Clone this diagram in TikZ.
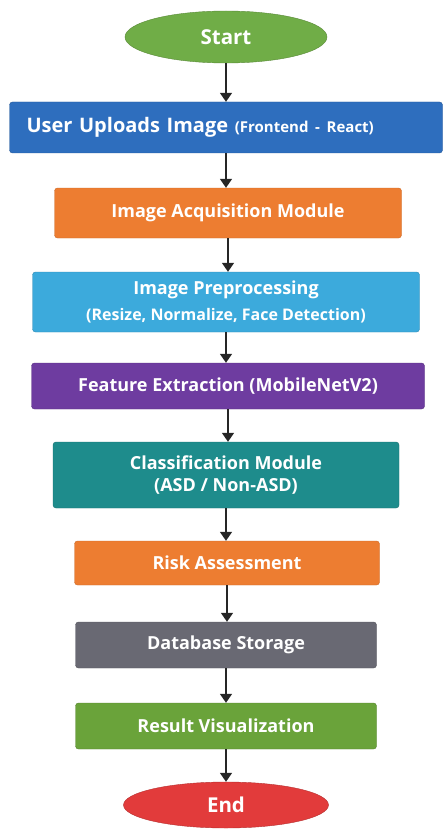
\documentclass[tikz,border=0pt]{standalone}
\usepackage{fontspec}
\setmainfont{Open Sans}
\usetikzlibrary{arrows.meta,shapes.geometric}

\definecolor{startgreen}{HTML}{70AD47}
\definecolor{endred}{HTML}{E23B3B}
\definecolor{uploadblue}{HTML}{2E6EBE}
\definecolor{steporange}{HTML}{ED7D31}
\definecolor{prepblue}{HTML}{3CAADC}
\definecolor{featpurple}{HTML}{6E3CA0}
\definecolor{clsteal}{HTML}{1E8C8C}
\definecolor{dbgray}{HTML}{696973}
\definecolor{resgreen}{HTML}{6AA33A}

\begin{document}
\begin{tikzpicture}[x=1pt, y=-1pt]

	\tikzstyle{term}=[ellipse, inner sep=0pt, text=white, font=\fontsize{20.5}{22}\selectfont\bfseries]
	\tikzstyle{box}=[rectangle, rounded corners=3pt, inner sep=0pt, text=white, align=center, font=\fontsize{18}{22}\selectfont\bfseries]
	\tikzstyle{flow}=[->, >={Triangle[width=12pt, length=9pt]}, line width=1.6pt, black!85]

	\useasboundingbox (0, 0) rectangle (443, 829);

	\coordinate (start) at (226, 37);
	\coordinate (upload) at (226, 127.5);
	\coordinate (acq) at (228, 213);
	\coordinate (prep) at (226, 302);
	\coordinate (feat) at (228, 386);
	\coordinate (cls) at (226, 475);
	\coordinate (risk) at (227, 563);
	\coordinate (db) at (226, 645);
	\coordinate (res) at (226, 726);
	\coordinate (end) at (226, 805);

	\node[term, fill=startgreen, draw=startgreen!80!black, minimum width=202pt, minimum height=52pt] (start) at (start) {Start}; % INICIO
	\node[box, fill=uploadblue, draw=uploadblue!80!black, minimum width=433pt, minimum height=51pt, text width=399pt, align=left, inner xsep=17pt, font=\fontsize{20}{22}\selectfont\bfseries] (upload) at (upload) {User Uploads Image {\fontsize{15}{18}\selectfont(Frontend - React)}};
	\node[box, fill=steporange, draw=steporange!85!black, minimum width=347pt, minimum height=50pt] (acq) at (acq) {Image Acquisition Module};
	\node[box, fill=prepblue, draw=prepblue!80!black, minimum width=387pt, minimum height=60pt] (prep) at (prep) {Image Preprocessing\\[4pt] {\fontsize{16}{18}\selectfont(Resize, Normalize, Face Detection)}};
	\node[box, fill=featpurple, draw=featpurple!80!black, minimum width=393pt, minimum height=46pt] (feat) at (feat) {Feature Extraction (MobileNetV2)};
	\node[box, fill=clsteal, draw=clsteal!80!black, minimum width=346pt, minimum height=66pt] (cls) at (cls) {Classification Module\\ (ASD / Non-ASD)};
	\node[box, fill=steporange, draw=steporange!85!black, minimum width=305pt, minimum height=44pt] (risk) at (risk) {Risk Assessment};
	\node[box, fill=dbgray, draw=dbgray!80!black, minimum width=301pt, minimum height=46pt] (db) at (db) {Database Storage};
	\node[box, fill=resgreen, draw=resgreen!80!black, minimum width=301pt, minimum height=46pt] (res) at (res) {Result Visualization};
	\node[term, fill=endred, draw=endred!80!black, minimum width=205pt, minimum height=46pt] (end) at (end) {End}; % FIN

	\draw[flow] (start) -- (start |- upload.north);
	\draw[flow] (upload) -- (upload |- acq.north);
	\draw[flow] (acq.south) -- (acq.south |- prep.north);
	\draw[flow] (prep) -- (prep |- feat.north);
	\draw[flow] (feat.south) -- (feat.south |- cls.north);
	\draw[flow] (cls) -- (cls |- risk.north);
	\draw[flow] (risk.south) -- (risk.south |- db.north);
	\draw[flow] (db) -- (db |- res.north);
	\draw[flow] (res) -- (res |- end.north);
\end{tikzpicture}
\end{document}
